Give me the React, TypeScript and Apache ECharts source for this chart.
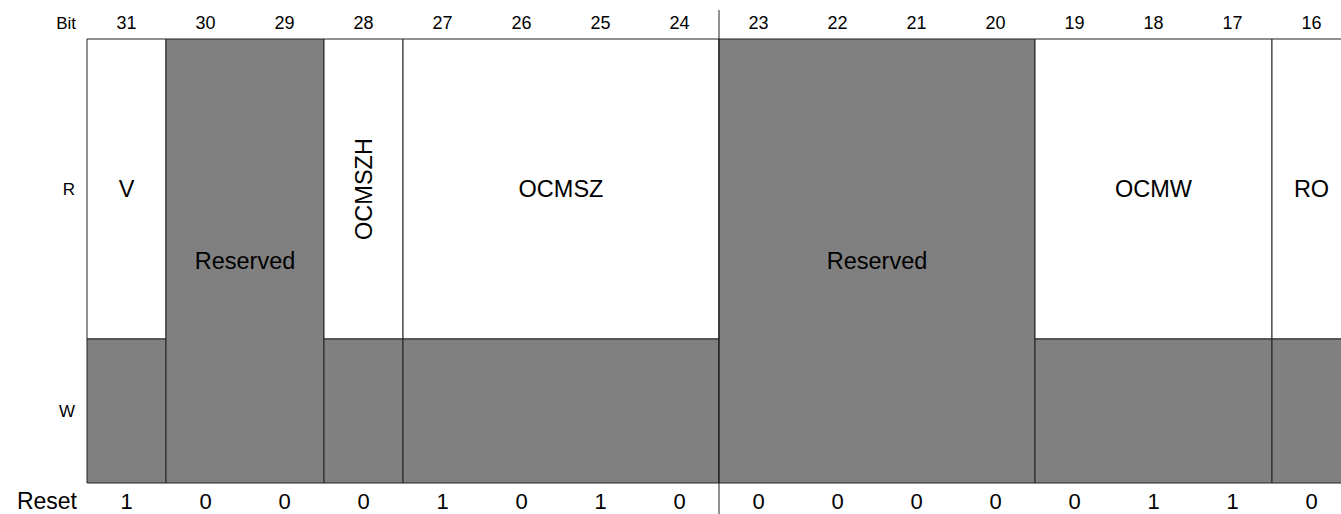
import React, { useEffect, useRef } from "react";
import * as echarts from "echarts";

const bitNumbers = [31, 30, 29, 28, 27, 26, 25, 24, 23, 22, 21, 20, 19, 18, 17, 16];
const resetValues = [1, 0, 0, 0, 1, 0, 1, 0, 0, 0, 0, 0, 0, 1, 1, 0];

const fieldNames = ["V", "Reserved", "OCMSZH", "OCMSZ", "Reserved", "OCMW", "RO"];
const fieldHi = [31, 30, 28, 27, 23, 19, 16];
const fieldLo = [31, 29, 28, 24, 20, 17, 16];
const fieldReserved = [false, true, false, false, true, false, false];
const fieldVertical = [false, false, true, false, false, false, false];

const dividerBits = [24];
const rowLabels = ["R", "W"];
const rowSplit = 144 / 444;

const FONT = '"Liberation Sans", Arial, Helvetica, sans-serif';
const GRAY = "#808080";
const LINE = "#222";

export default function App() {
  const ref = useRef<HTMLDivElement>(null);
  useEffect(() => {
    document.body.style.margin = "0";
    const chart = echarts.init(ref.current!, null, { renderer: "svg" });
    const option: any = {
      animation: false,
      backgroundColor: "#fff",
      grid: { left: 87, right: 0, top: 39, bottom: 31 },
      xAxis: { type: "value", min: 16, max: 32, inverse: true, show: false },
      yAxis: { type: "value", min: 0, max: 1, show: false },
      graphic: [
        { type: "text", style: { text: "Bit", x: 76, y: 23, align: "right", verticalAlign: "middle", fontSize: 17, fontFamily: FONT, fill: "#000" } },
        { type: "text", style: { text: rowLabels[0], x: 69, y: 189, align: "center", verticalAlign: "middle", fontSize: 17, fontFamily: FONT, fill: "#000" } },
        { type: "text", style: { text: rowLabels[1], x: 67, y: 411, align: "center", verticalAlign: "middle", fontSize: 17, fontFamily: FONT, fill: "#000" } },
        { type: "text", style: { text: "Reset", x: 77, y: 501, align: "right", verticalAlign: "middle", fontSize: 23, fontFamily: FONT, fill: "#000" } },
      ],
      series: [
        {
          type: "custom",
          clip: false,
          encode: { x: [0, 1] },
          data: fieldNames.map((_, i) => [fieldHi[i], fieldLo[i], i]),
          renderItem: (params: any, api: any) => {
            const hi = api.value(0);
            const lo = api.value(1);
            const i = api.value(2);
            const tl = api.coord([hi + 1, 1]);
            const br = api.coord([lo, 0]);
            const mid = api.coord([lo, rowSplit]);
            const x0 = tl[0], y0 = tl[1], x1 = br[0], y1 = br[1], ym = mid[1];
            const w = x1 - x0;
            const children: any[] = [];
            const name = fieldNames[i];
            if (fieldReserved[i]) {
              children.push({ type: "rect", shape: { x: x0, y: y0, width: w, height: y1 - y0 }, style: { fill: GRAY, stroke: LINE, lineWidth: 1 } });
              children.push({ type: "text", style: { text: name, x: x0 + w / 2, y: (y0 + y1) / 2, align: "center", verticalAlign: "middle", fontSize: 23.5, fontFamily: FONT, fill: "#000" } });
            } else {
              children.push({ type: "rect", shape: { x: x0, y: y0, width: w, height: ym - y0 }, style: { fill: "#fff", stroke: LINE, lineWidth: 1 } });
              children.push({ type: "rect", shape: { x: x0, y: ym, width: w, height: y1 - ym }, style: { fill: GRAY, stroke: LINE, lineWidth: 1 } });
              if (fieldVertical[i]) {
                children.push({ type: "text", x: x0 + w / 2, y: (y0 + ym) / 2, rotation: Math.PI / 2, style: { text: name, x: 0, y: 0, align: "center", verticalAlign: "middle", fontSize: 23.5, fontFamily: FONT, fill: "#000" } });
              } else {
                children.push({ type: "text", style: { text: name, x: x0 + w / 2, y: (y0 + ym) / 2, align: "center", verticalAlign: "middle", fontSize: 23.5, fontFamily: FONT, fill: "#000" } });
              }
            }
            return { type: "group", children };
          },
        },
        {
          type: "custom",
          clip: false,
          encode: { x: 0 },
          data: bitNumbers.map((b, i) => [b, resetValues[i]]),
          renderItem: (params: any, api: any) => {
            const b = api.value(0);
            const r = api.value(1);
            const top = api.coord([b + 0.5, 1]);
            const bot = api.coord([b + 0.5, 0]);
            return {
              type: "group",
              children: [
                { type: "text", style: { text: String(b), x: top[0], y: top[1] - 16, align: "center", verticalAlign: "middle", fontSize: 18, fontFamily: FONT, fill: "#000" } },
                { type: "text", style: { text: String(r), x: bot[0], y: bot[1] + 18, align: "center", verticalAlign: "middle", fontSize: 22, fontFamily: FONT, fill: "#000" } },
              ],
            };
          },
        },
        {
          type: "custom",
          clip: false,
          encode: { x: 0 },
          data: dividerBits.map((b) => [b]),
          renderItem: (params: any, api: any) => {
            const t = api.coord([api.value(0), 1]);
            const bt = api.coord([api.value(0), 0]);
            return {
              type: "line",
              shape: { x1: t[0], y1: t[1] - 29, x2: bt[0], y2: bt[1] + 31 },
              style: { stroke: LINE, lineWidth: 1 },
              z2: 10,
            };
          },
        },
      ],
    };
    chart.setOption(option);
    return () => chart.dispose();
  }, []);
  return (
    <div style={{ position: "absolute", left: 0, top: 0, width: 1341, height: 514, overflow: "hidden", background: "#fff" }}>
      <div ref={ref} style={{ width: 1351, height: 514 }} />
    </div>
  );
}
